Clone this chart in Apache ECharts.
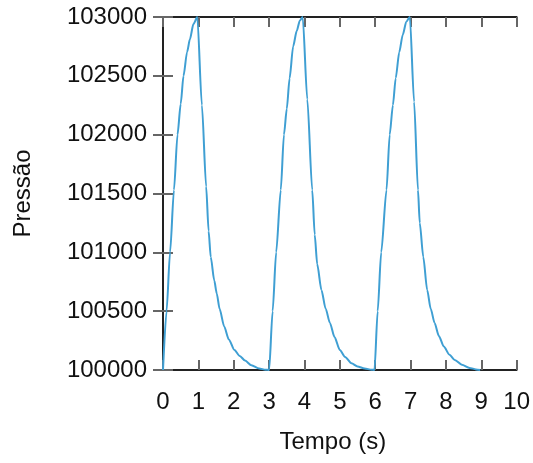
<!DOCTYPE html>
<html>
<head>
<meta charset="utf-8">
<script src="https://cdn.jsdelivr.net/npm/echarts@6/dist/echarts.min.js"></script>
<style>
  html, body { margin: 0; padding: 0; background: #fff; }
  #chart { width: 533px; height: 463px; }
</style>
</head>
<body>
<div id="chart"></div>
<script>
// tempo (s) e pressão, três ciclos
const tempo = [
  0, 0.1, 0.2, 0.31, 0.41, 0.5, 0.58, 0.68, 0.76, 0.86, 0.97,
  1.1, 1.22, 1.29, 1.35, 1.45, 1.52, 1.6, 1.73, 1.86, 2.02, 2.17, 2.32, 2.5, 2.72, 2.9, 3.0,
  3.1, 3.2, 3.33, 3.42, 3.5, 3.58, 3.68, 3.78, 3.87, 3.95,
  4.08, 4.22, 4.29, 4.36, 4.48, 4.6, 4.72, 4.85, 5.0, 5.15, 5.33, 5.5, 5.7, 5.9, 5.98,
  6.07, 6.17, 6.32, 6.41, 6.5, 6.58, 6.68, 6.78, 6.88, 6.98,
  7.1, 7.21, 7.26, 7.36, 7.47, 7.57, 7.68, 7.8, 7.94, 8.1, 8.25, 8.45, 8.67, 8.85, 8.97
]
const pressao = [
  100000, 100500, 101000, 101530, 102000, 102260, 102500, 102700, 102810, 102940, 103000,
  102250, 101560, 101180, 100960, 100760, 100650, 100520, 100370, 100260, 100170, 100120, 100080, 100040, 100012, 100003, 100000,
  100500, 101000, 101530, 102000, 102220, 102480, 102750, 102880, 102970, 103000,
  102300, 101530, 101150, 100900, 100680, 100520, 100400, 100280, 100170, 100110, 100057, 100030, 100012, 100003, 100000,
  100500, 101000, 101530, 102000, 102250, 102480, 102700, 102850, 102960, 103000,
  102280, 101530, 101250, 100960, 100680, 100520, 100400, 100290, 100200, 100130, 100085, 100045, 100018, 100005, 100000
]

const font = 'Liberation Sans'
const axisColor = '#222'
const tickColor = '#666'

const chart = echarts.init(document.getElementById('chart'))

function xAxis(position, labels) {
  return {
    type: 'value',
    position,
    min: 0,
    max: 10,
    interval: 1,
    axisLine: { show: true, lineStyle: { color: axisColor, width: 2 } },
    axisTick: { show: true, inside: true, length: 10, lineStyle: { color: tickColor, width: 2 } },
    axisLabel: { show: labels, fontSize: 24, color: '#111', fontFamily: font, margin: 20 },
    splitLine: { show: false },
  }
}

function yAxis(position, labels) {
  return {
    type: 'value',
    position,
    min: 100000,
    max: 103000,
    interval: 500,
    axisLine: { show: true, lineStyle: { color: axisColor, width: 2 } },
    axisTick: { show: true, inside: true, length: 10, lineStyle: { color: tickColor, width: 2 } },
    axisLabel: {
      show: labels, fontSize: 24, color: '#111', fontFamily: font, margin: 16,
      padding: [6, 0, 0, 0], formatter: v => String(v),
    },
    splitLine: { show: false },
  }
}

const xBottom = xAxis('bottom', true)
xBottom.name = 'Tempo (s)'
xBottom.nameLocation = 'middle'
xBottom.nameGap = 60
xBottom.nameTextStyle = { fontSize: 24, color: '#111', fontFamily: font, padding: [0, 14, 0, 0] }

const yLeft = yAxis('left', true)
yLeft.name = 'Pressão'
yLeft.nameLocation = 'middle'
yLeft.nameGap = 128
yLeft.nameTextStyle = { fontSize: 24, color: '#111', fontFamily: font }

chart.setOption({
  animation: false,
  grid: { left: 163, right: 16, top: 17, bottom: 93 },
  xAxis: [xBottom, xAxis('top', false)],
  yAxis: [yLeft, yAxis('right', false)],
  series: [
    {
      type: 'line',
      xAxisIndex: 0,
      yAxisIndex: 0,
      showSymbol: false,
      clip: false,
      smooth: 0.25,
      smoothMonotone: 'x',
      lineStyle: { color: '#3f9fd3', width: 2 },
      data: tempo.map((t, i) => [t, pressao[i]]),
    },
  ],
})
</script>
</body>
</html>
